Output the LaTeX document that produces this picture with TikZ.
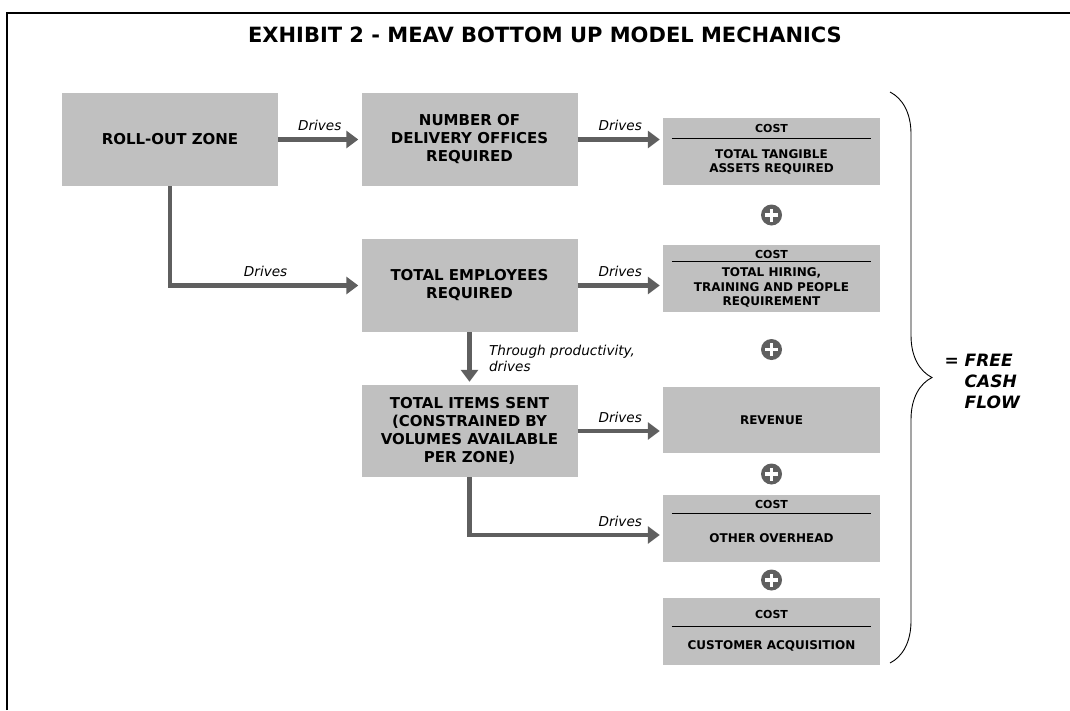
\documentclass[tikz,border=0pt]{standalone}
\usepackage{fontspec}
\setmainfont{DejaVu Sans}
\usepackage{tikz}
\usetikzlibrary{arrows.meta,decorations.pathreplacing}
\definecolor{boxgray}{HTML}{C0C0C0}
\definecolor{arrowgray}{HTML}{5F5F5F}
\tikzset{
  box/.style={fill=boxgray,minimum width=216pt,minimum height=93pt,inner sep=0pt,
              align=center,font=\bfseries\fontsize{15}{18}\selectfont},
  costbox/.style={fill=boxgray,minimum width=217pt,minimum height=67pt,inner sep=0pt,
                  align=center,font=\bfseries\fontsize{12}{14.5}\selectfont},
  costhead/.style={font=\bfseries\fontsize{11}{13}\selectfont},
  costtext/.style={align=center,font=\bfseries\fontsize{12}{14.5}\selectfont},
  divider/.style={line width=0.8pt},
  flow/.style={draw=arrowgray,line width=4.5pt,-{Triangle[length=12pt,width=17pt]},shorten >=3pt},
  lbl/.style={font=\itshape\fontsize{13.6}{15.5}\selectfont},
  plus/.style={circle,fill=arrowgray,minimum size=21pt,inner sep=0pt,
    path picture={\draw[white,line width=3.6pt]
      ([xshift=-6.5pt]path picture bounding box.center) -- ([xshift=6.5pt]path picture bounding box.center)
      ([yshift=-6.5pt]path picture bounding box.center) -- ([yshift=6.5pt]path picture bounding box.center);}},
  fcf/.style={font=\bfseries\itshape\fontsize{17}{21}\selectfont},
}

\begin{document}
\begin{tikzpicture}[x=1pt,y=-1pt]
  \useasboundingbox (0,0) rectangle (1070,710);
  \draw[line width=1.6pt] (7,710) -- (7,13) -- (1070,13);
  \node[font=\bfseries\fontsize{21}{24}\selectfont] (title) at (545,35)
    {EXHIBIT 2 - MEAV BOTTOM UP MODEL MECHANICS};

  % drivers
  \node[box] (roll) at (170,139.5) {ROLL-OUT ZONE};
  \node[box] (offices) at (469.5,139.5) {NUMBER OF\\DELIVERY OFFICES\\REQUIRED};
  \node[box] (employees) at (469.5,285.5) {TOTAL EMPLOYEES\\REQUIRED};
  \node[box,minimum height=92pt] (items) at (469.5,431)
    {TOTAL ITEMS SENT\\(CONSTRAINED BY\\VOLUMES AVAILABLE\\PER ZONE)};

  % cash flow items
  \node[costbox] (assets) at (771.5,151.5) {};
  \node[costhead] (assetshead) at (771.5,128.5) {COST};
  \draw[divider] ([xshift=9pt]assets.north west) ++(0,21) -- ++(199,0);
  \node[costtext] (assetstext) at (771.5,162) {TOTAL TANGIBLE\\ASSETS REQUIRED};

  \node[costbox] (hiring) at (771.5,278.5) {};
  \node[costhead] (hiringhead) at (771.5,254) {COST};
  \draw[divider] ([xshift=9pt]hiring.north west) ++(0,17) -- ++(199,0);
  \node[costtext] (hiringtext) at (771.5,287.5) {TOTAL HIRING,\\TRAINING AND PEOPLE\\REQUIREMENT};

  \node[costbox,minimum height=66pt] (revenue) at (771.5,420) {REVENUE};

  \node[costbox] (overhead) at (771.5,528.5) {};
  \node[costhead] (overheadhead) at (771.5,504) {COST};
  \draw[divider] ([xshift=9pt]overhead.north west) ++(0,19) -- ++(199,0);
  \node[costtext] (overheadtext) at (771.5,538) {OTHER OVERHEAD};

  \node[costbox] (acquisition) at (771.5,631.5) {};
  \node[costhead] (acquisitionhead) at (771.5,614) {COST};
  \draw[divider] ([xshift=9pt]acquisition.north west) ++(0,29) -- ++(199,0);
  \node[costtext] (acquisitiontext) at (771.5,646) {CUSTOMER ACQUISITION};

  \node[plus] (plusa) at (771.5,215) {};
  \node[plus] (plusb) at (771.5,349.5) {};
  \node[plus] (plusc) at (771.5,474) {};
  \node[plus] (plusd) at (771.5,580) {};

  % arrows
  \draw[flow] (roll) -- node[lbl,above=3pt] {Drives} (offices);
  \draw[flow] (roll.south) |- node[lbl,above=3pt,pos=0.75] {Drives} (employees.west);
  \draw[flow] (offices.east) -- node[lbl,above=3pt] {Drives} (offices.east -| assets.west);
  \draw[flow] (employees.east) -- node[lbl,above=3pt] {Drives} (employees.east -| hiring.west);
  \draw[flow] (employees.south) -- node[lbl,right=14pt,align=left] {Through productivity,\\drives} (items.north);
  \draw[flow] (items.east) -- node[lbl,above=3pt] {Drives} (items.east -| revenue.west);
  \draw[flow] (items.south) |- node[lbl,above=3pt,pos=0.89] {Drives} ([yshift=-6.5pt]overhead.west);

  % total
  \draw[decorate,decoration={brace,amplitude=42pt},line width=0.9pt] (890,92) -- (890,663);
  \node[fcf,anchor=base west] (fcf) at (941,366)
    {=~\begin{tabular}[t]{@{}l@{}}FREE\\CASH\\FLOW\end{tabular}};
\end{tikzpicture}
\end{document}
